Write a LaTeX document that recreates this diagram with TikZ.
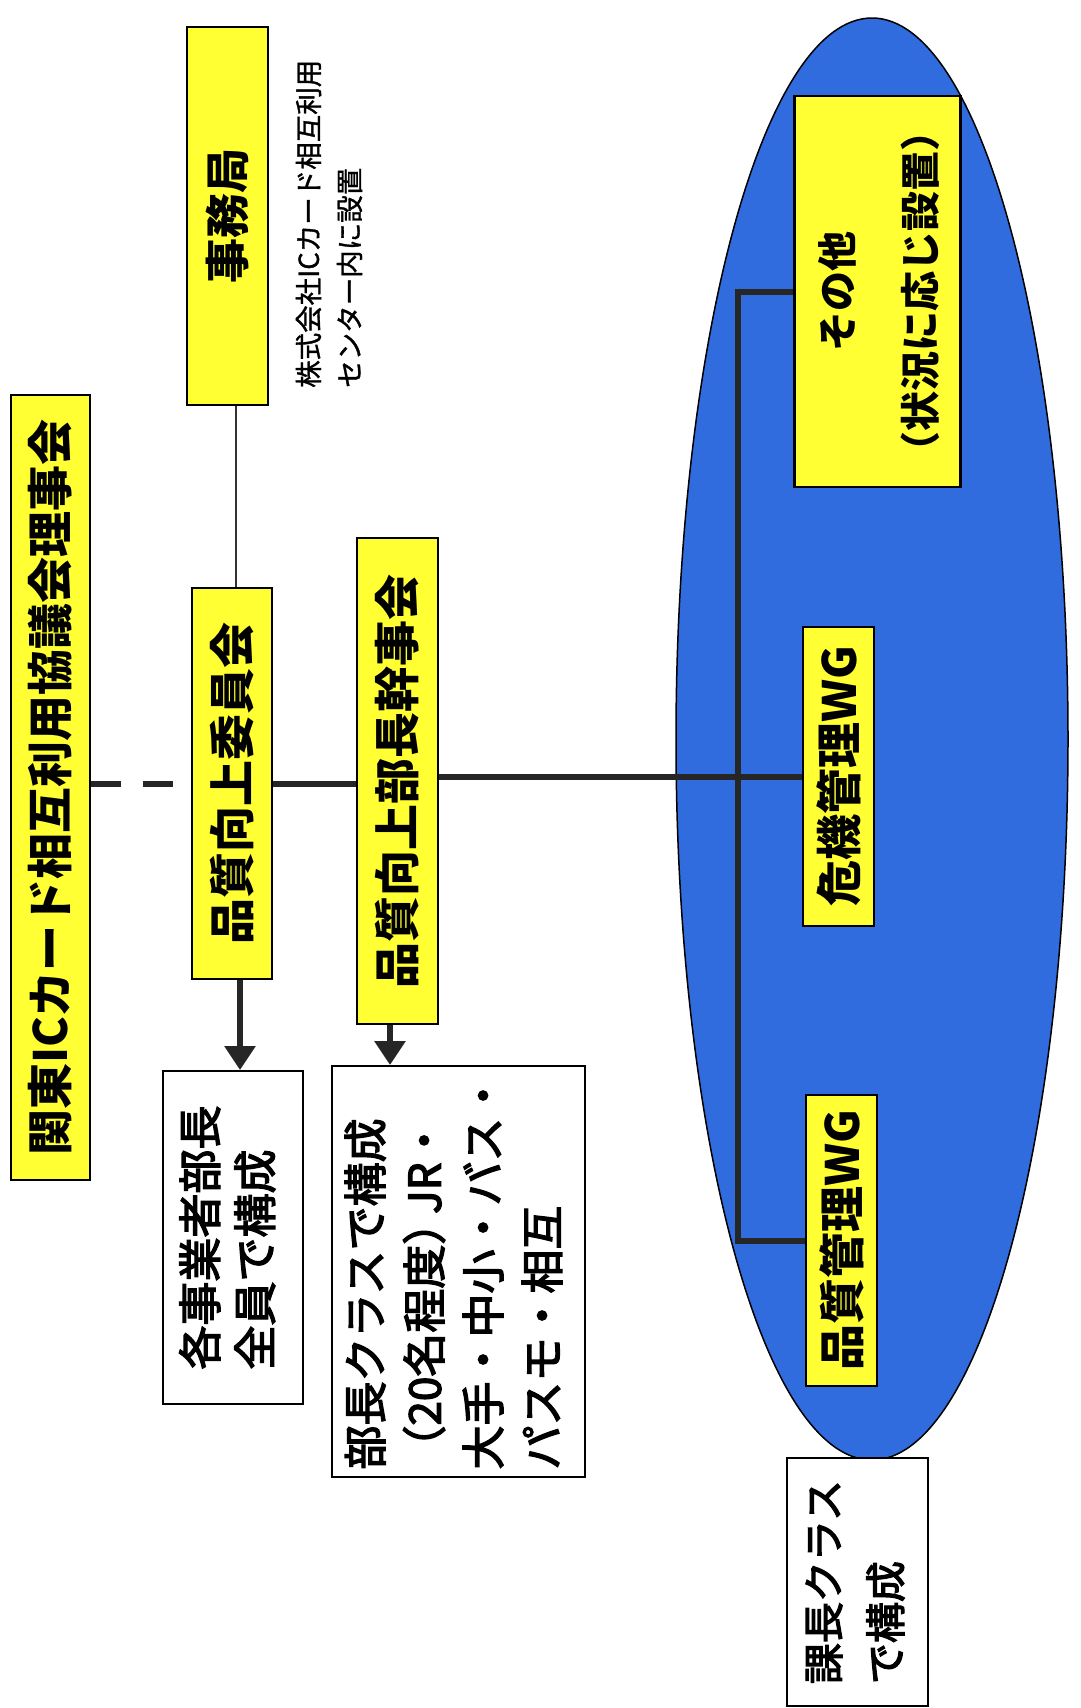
\documentclass[tikz,border=0pt]{standalone}
\usepackage{fontspec}
\setmainfont{Noto Sans CJK JP}
\newfontfamily\jpmed{Noto Sans CJK JP}[FakeBold=3]
\newfontfamily\jpnote{Noto Sans CJK JP}[FakeBold=1.2]
\usetikzlibrary{arrows.meta,shapes.geometric}
\definecolor{boxyellow}{RGB}{255,255,51}
\definecolor{ellblue}{RGB}{48,108,222}
\begin{document}
\begin{tikzpicture}[x=1pt,y=-1pt,
  ybox/.style={draw=black, line width=2.5pt, fill=boxyellow, inner sep=0pt, font=\bfseries},
  wbox/.style={draw=black, line width=2pt, fill=white, inner sep=0pt, font=\jpmed},
  conn/.style={line width=6pt, draw=black!85},
  arr/.style={conn, -{Triangle[width=30pt,length=24pt]}},
  thinline/.style={line width=1.5pt, draw=black!80},
]
\useasboundingbox (0,0) rectangle (1080,1708);
\fill[white] (0,0) rectangle (1080,1708);

% group ellipse
\node[draw=black, line width=1.5pt, ellipse, fill=ellblue, minimum width=392pt, minimum height=1442pt, inner sep=0pt] (group) at (872,739) {};

% yellow boxes
\node[ybox, minimum width=79pt, minimum height=785pt] (riji) at (50.5,787.5)
  {\rotatebox{90}{\fontsize{46}{46}\selectfont 関東ICカード相互利用協議会理事会}};
\node[ybox, minimum width=81pt, minimum height=378pt] (jimu) at (227.5,216)
  {\rotatebox{90}{\fontsize{45}{45}\selectfont 事務局}};
\node[ybox, minimum width=80pt, minimum height=391pt] (iin) at (232,783.5)
  {\rotatebox{90}{\fontsize{46}{46}\selectfont 品質向上委員会}};
\node[ybox, minimum width=81pt, minimum height=486pt] (kanji) at (397.5,781)
  {\rotatebox{90}{\fontsize{46}{46}\selectfont 品質向上部長幹事会}};
\node[ybox, minimum width=163pt, minimum height=391pt] (sonota) at (877.5,291.5)
  {\rotatebox{90}{\fontsize{40}{83}\selectfont\begin{tabular}{@{}c@{}}その他\\（状況に応じ設置）\end{tabular}}};
\node[ybox, minimum width=71pt, minimum height=299pt] (kiki) at (838.5,776.5)
  {\rotatebox{90}{\fontsize{46}{46}\selectfont 危機管理WG}};
\node[ybox, minimum width=71pt, minimum height=291pt] (hwg) at (841.5,1240.5)
  {\rotatebox{90}{\fontsize{46}{46}\selectfont 品質管理WG}};

% white boxes
\node[wbox, minimum width=140pt, minimum height=333pt] (kaku) at (233,1237.5)
  {\rotatebox{90}{\fontsize{44}{55}\selectfont\begin{tabular}{@{}l@{}}各事業者部長\\全員で構成\end{tabular}}};
\node[wbox, minimum width=253pt, minimum height=411pt] (bucho) at (458.5,1271.5)
  {\rotatebox{90}{\fontsize{44}{59}\selectfont\begin{tabular}{@{}l@{}}部長クラスで構成\\（20名程度）\kern-0.3em JR・\\大手・中小・バス・\\パスモ・相互\end{tabular}}};
\node[wbox, minimum width=141pt, minimum height=248pt] (kacho) at (857.5,1582)
  {\rotatebox{90}{\fontsize{41}{62}\selectfont\begin{tabular}{@{}l@{}}課長クラス\\で構成\end{tabular}}};

% annotation
\node[anchor=south west, inner sep=0pt, font=\jpnote] (note) at (290,388)
  {\rotatebox{90}{\fontsize{27.5}{41}\selectfont\begin{tabular}{@{}l@{}}株式会社ICカード相互利用\\センター内に設置\end{tabular}}};

% connectors
\coordinate (tx) at (236,0);
\draw[thinline] (jimu.south -| tx) -- (iin.north -| tx);
\draw[conn, dash pattern=on 30pt off 22pt] (riji.east |- iin.west) -- (iin.west);
\draw[conn] (iin.east) -- (iin.east -| kanji.west);
\draw[conn] (kanji.east |- kiki.west) -- (kiki.west);
\coordinate (tr) at (738,0);
\draw[conn] (sonota.west) -- (sonota.west -| tr) -- (hwg.west -| tr) -- (hwg.west);
\coordinate (a1) at (240,0);
\draw[arr] (iin.south -| a1) -- (kaku.north -| a1);
\coordinate (a2) at (390,0);
\draw[arr] (kanji.south -| a2) -- (bucho.north -| a2);
\end{tikzpicture}
\end{document}
